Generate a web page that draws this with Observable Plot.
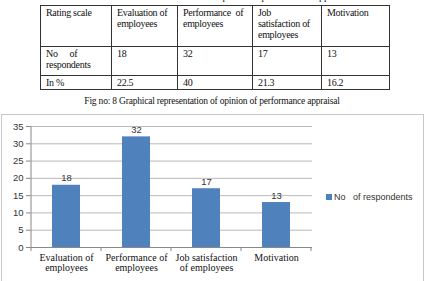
<!DOCTYPE html>
<html>
<head>
<meta charset="utf-8">
<script src="https://cdn.jsdelivr.net/npm/d3@7"></script>
<script src="https://cdn.jsdelivr.net/npm/@observablehq/plot@0.6"></script>
<style>
  html, body { margin: 0; padding: 0; background: #fff; }
  body { width: 424px; height: 281px; position: relative; overflow: hidden; font-family: "Liberation Serif", serif; color: #111; }
  .tcap { position: absolute; top: -9px; left: 40px; width: 388px; text-align: center; font-size: 10px; }
  table.data { position: absolute; top: 5px; left: 40px; width: 349px; table-layout: fixed; border-collapse: collapse; font-size: 10px; line-height: 11px; letter-spacing: -0.3px; }
  table.data td { box-sizing: border-box; border: 1px solid #333; vertical-align: top; padding: 1px 3px 1px 5px; overflow: hidden; text-align: left; white-space: pre-line; }
  .fcap { position: absolute; top: 96px; left: 0; width: 424px; text-align: center; font-size: 9.5px; letter-spacing: -0.2px; }
  .chart { position: absolute; top: 114px; left: 1px; width: 421px; height: 180px; border: 1px solid #c8c8c8; }
  .chart svg { position: absolute; left: 0; top: 0; }
  .legend { position: absolute; left: 324px; top: 77px; font-family: "Liberation Sans", sans-serif; font-size: 9px; color: #333; white-space: pre; }
  .legend span.sw { display: inline-block; width: 6px; height: 6px; background: #4f81bd; margin-right: 2px; vertical-align: 0px; }
</style>
</head>
<body>
<script>
// Opinion of performance appraisal: respondents per attribute
const headers = ["Rating scale", "Evaluation of\nemployees", "Performance\u2002of\nemployees", "Job\nsatisfaction of\nemployees", "Motivation"];
const categories = ["Evaluation of employees", "Performance of employees", "Job satisfaction of employees", "Motivation"];
const axisLabels = ["Evaluation of\nemployees", "Performance of\nemployees", "Job satisfaction\nof employees", "Motivation"];
const respondents = [18, 32, 17, 13];
const percents = ["22.5", "40", "21.3", "16.2"];
const yTicks = [0, 5, 10, 15, 20, 25, 30, 35];
const seriesName = "No   of respondents";

// Table caption and table
const tcap = document.createElement("div");
tcap.className = "tcap";
tcap.textContent = "Table no: 8 Attributes of opinion of performance appraisal";
document.body.appendChild(tcap);

const table = document.createElement("table");
table.className = "data";
const colWidths = [71, 66, 75, 69, 68];
const rowHeights = [41, 29, 13];
const colgroup = document.createElement("colgroup");
colWidths.forEach(w => {
  const col = document.createElement("col");
  col.style.width = w + "px";
  colgroup.appendChild(col);
});
table.appendChild(colgroup);
const rows = [
  headers,
  ["No\u2003 of\nrespondents", ...respondents.map(String)],
  ["In %", ...percents]
];
rows.forEach((r, ri) => {
  const tr = document.createElement("tr");
  tr.style.height = rowHeights[ri] + "px";
  r.forEach(c => {
    const td = document.createElement("td");
    td.textContent = c;
    tr.appendChild(td);
  });
  table.appendChild(tr);
});
document.body.appendChild(table);

const fcap = document.createElement("div");
fcap.className = "fcap";
fcap.textContent = "Fig no: 8 Graphical representation of opinion of performance appraisal";
document.body.appendChild(fcap);

// Bar chart
const data = categories.map((c, i) => ({category: c, value: respondents[i]}));
const labelOf = new Map(categories.map((c, i) => [c, axisLabels[i]]));

const chart = document.createElement("div");
chart.className = "chart";
document.body.appendChild(chart);

const plot = Plot.plot({
  width: 330,
  height: 166,
  marginLeft: 28,
  marginRight: 20,
  marginTop: 11,
  marginBottom: 34,
  style: {fontFamily: "Liberation Sans, sans-serif", fontSize: "9px", color: "#333", background: "transparent"},
  x: {domain: categories, paddingInner: 0.6, paddingOuter: 0.3, axis: null, label: null},
  y: {domain: [0, 35], ticks: yTicks, axis: null, label: null},
  marks: [
    Plot.ruleY(yTicks.filter(t => t > 0), {stroke: "#b8b8b8", strokeWidth: 1}),
    Plot.barY(data, {x: "category", y: "value", fill: "#4f81bd"}),
    Plot.text(data, {x: "category", y: "value", text: d => String(d.value), dy: -7, fill: "#333", fontSize: 9.5}),
    Plot.ruleY([0], {stroke: "#888"}),
    Plot.axisY({ticks: yTicks, tickSize: 4, tickPadding: 3, stroke: "#888", fill: "#333", fontSize: 9.5, label: null}),
    Plot.axisX({tickSize: 0, tickPadding: 6, tickFormat: c => labelOf.get(c), fontFamily: "Liberation Serif, serif", fontSize: 10, fill: "#111", lineHeight: 1.05, label: null})
  ]
});
chart.appendChild(plot);

// Category separator ticks and the y axis line, drawn from the plot's scales
const svg = d3.select(plot);
const yPx = plot.scale("y");
const xs = plot.scale("x");
const starts = categories.map(c => xs.apply(c) - (xs.step - xs.bandwidth) / 2);
starts.push(starts[starts.length - 1] + xs.step);
svg.append("g").selectAll("line").data(starts).join("line")
  .attr("x1", d => d).attr("x2", d => d)
  .attr("y1", yPx.apply(0)).attr("y2", yPx.apply(0) + 4)
  .attr("stroke", "#888");
svg.append("line")
  .attr("x1", starts[0]).attr("x2", starts[0])
  .attr("y1", yPx.apply(35)).attr("y2", yPx.apply(0))
  .attr("stroke", "#888");

// Legend
const legend = document.createElement("div");
legend.className = "legend";
legend.innerHTML = '<span class="sw"></span>';
legend.appendChild(document.createTextNode(seriesName));
chart.appendChild(legend);
</script>
</body>
</html>
